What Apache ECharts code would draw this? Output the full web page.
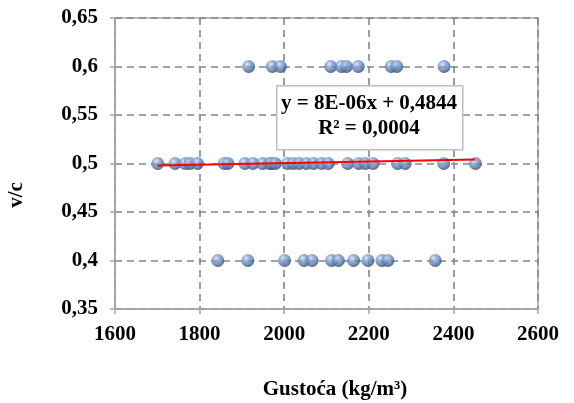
<!DOCTYPE html>
<html>
<head>
<meta charset="utf-8">
<script src="https://cdn.jsdelivr.net/npm/echarts@6/dist/echarts.min.js"></script>
<style>html,body{margin:0;padding:0;background:#fff}#c{width:574px;height:403px}</style>
</head>
<body>
<div id="c"></div>
<script>
// Data
var xs06 = [1916, 1972, 1991, 2110, 2135, 2147, 2175, 2253, 2266, 2378];
var xs05 = [1701, 1742, 1766, 1777, 1795, 1858, 1867, 1907, 1926, 1949, 1965, 1970, 1979, 2008, 2021, 2035, 2052, 2069, 2088, 2104, 2150, 2176, 2191, 2210, 2268, 2286, 2377, 2452];
var xs04 = [1843, 1914, 2001, 2047, 2066, 2112, 2128, 2164, 2198, 2231, 2245, 2357];
var yLevels = [0.6, 0.5, 0.4];
var trendX = [1700, 2452];
var trendY = [0.498, 0.504];
var xTitle = 'Gustoća (kg/m³)';
var yTitle = 'v/c';
var eqLine1 = 'y = 8E-06x + 0,4844';
var eqLine2 = 'R² = 0,0004';

var pts = [];
[xs06, xs05, xs04].forEach(function (arr, i) {
  arr.forEach(function (x) { pts.push([x, yLevels[i]]); });
});
var trend = trendX.map(function (x, i) { return [x, trendY[i]]; });

var font = 'Liberation Serif';
var chart = echarts.init(document.getElementById('c'));
chart.setOption({
  animation: false,
  backgroundColor: '#fff',
  grid: { left: 115, right: 36, top: 18, bottom: 94, show: true, borderColor: '#a6a6a6', borderWidth: 1.5, backgroundColor: 'transparent' },
  xAxis: {
    type: 'value', min: 1600, max: 2600, interval: 200,
    axisLine: { show: true, lineStyle: { color: '#a6a6a6', width: 1.5 } },
    axisTick: { show: true, inside: false, length: 5, lineStyle: { color: '#a6a6a6', width: 1.5 } },
    splitLine: { show: true, lineStyle: { color: '#858585', width: 1.6, type: [7, 5] } },
    axisLabel: {
      margin: 15, color: '#000', fontFamily: font, fontWeight: 'bold', fontSize: 21,
      formatter: function (v) { return String(v); }
    }
  },
  yAxis: {
    type: 'value', min: 0.35, max: 0.65, interval: 0.05,
    axisLine: { show: true, lineStyle: { color: '#a6a6a6', width: 1.5 } },
    axisTick: { show: true, inside: false, length: 5, lineStyle: { color: '#a6a6a6', width: 1.5 } },
    splitLine: { show: true, lineStyle: { color: '#858585', width: 1.6, type: [7, 5] } },
    axisLabel: {
      margin: 17, color: '#000', fontFamily: font, fontWeight: 'bold', fontSize: 21,
      formatter: function (v) { return String(+v.toFixed(2)).replace('.', ','); }
    }
  },
  series: [
    {
      type: 'scatter', data: pts, symbol: 'circle', symbolSize: 13, z: 3,
      itemStyle: {
        color: {
          type: 'radial', x: 0.38, y: 0.32, r: 0.72,
          colorStops: [
            { offset: 0, color: '#d6e3f7' },
            { offset: 0.3, color: '#88a6d6' },
            { offset: 0.7, color: '#5474a6' },
            { offset: 1, color: '#2a3b58' }
          ]
        },
        borderWidth: 0
      }
    },
    {
      type: 'line', data: trend, symbol: 'none', z: 4,
      lineStyle: { color: '#ff0000', width: 2 }
    }
  ],
  graphic: [
    {
      type: 'rect', left: 276, top: 85, z: 10,
      shape: { width: 186, height: 64 },
      style: { fill: '#fff', stroke: '#bfbfbf', lineWidth: 1.5 }
    },
    {
      type: 'text', x: 369, y: 104, z: 11,
      style: { text: eqLine1, fill: '#000', font: 'bold 21px "Liberation Serif"', align: 'center', verticalAlign: 'middle' }
    },
    {
      type: 'text', x: 369, y: 129, z: 11,
      style: { text: eqLine2, fill: '#000', font: 'bold 21px "Liberation Serif"', align: 'center', verticalAlign: 'middle' }
    },
    {
      type: 'text', x: 335, y: 390, z: 11,
      style: { text: xTitle, fill: '#000', font: 'bold 21px "Liberation Serif"', align: 'center', verticalAlign: 'middle' }
    },
    {
      type: 'text', x: 17, y: 195, rotation: Math.PI / 2, z: 11,
      style: { text: yTitle, fill: '#000', font: 'bold 21px "Liberation Serif"', align: 'center', verticalAlign: 'middle' }
    }
  ]
});
</script>
</body>
</html>
